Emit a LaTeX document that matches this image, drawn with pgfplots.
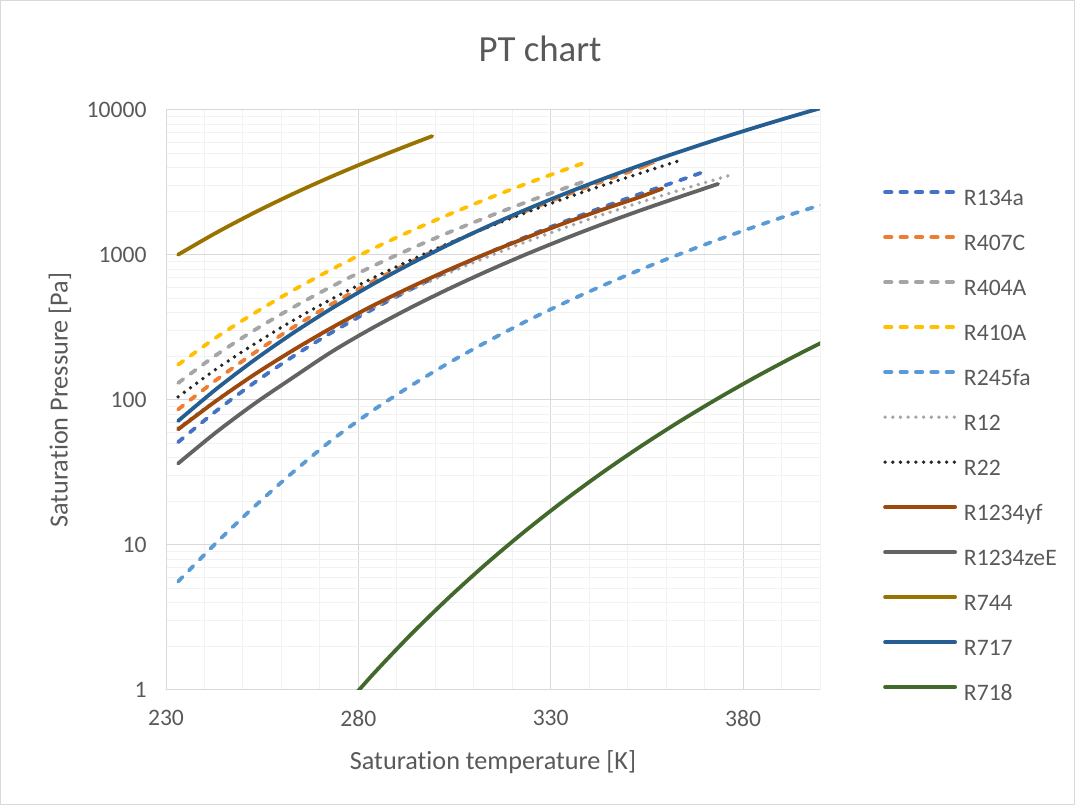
\documentclass[border=0pt]{standalone}
\usepackage{pgfplots}
\pgfplotsset{compat=1.18}
\usepackage{fontspec}
\setmainfont{Carlito}[Ligatures=NoCommon]

\definecolor{txt}{HTML}{595959}
\definecolor{majgrid}{HTML}{D9D9D9}
\definecolor{mingrid}{HTML}{F2F2F2}
\definecolor{cA}{HTML}{4472C4}
\definecolor{cB}{HTML}{ED7D31}
\definecolor{cC}{HTML}{A5A5A5}
\definecolor{cD}{HTML}{FFC000}
\definecolor{cE}{HTML}{5B9BD5}
\definecolor{cF}{HTML}{262626}
\definecolor{cG}{HTML}{9E480E}
\definecolor{cH}{HTML}{636363}
\definecolor{cI}{HTML}{997300}
\definecolor{cJ}{HTML}{255E91}
\definecolor{cK}{HTML}{43682B}

\tikzset{
  dashline/.style={line width=3.8bp, line cap=round, dash pattern=on 6.4bp off 9bp},
  dotline/.style={line width=3.8bp, line cap=round, dash pattern=on 0bp off 7.7bp},
  solidline/.style={line width=3.8bp, line cap=round},
}

\begin{document}
\begin{tikzpicture}[x=1bp,y=1bp]
\useasboundingbox (0,0) rectangle (1075,805);
\draw[majgrid, line width=1bp] (0.5,0.5) rectangle (1074.5,804.5);
\begin{axis}[
  at={(166bp,115bp)}, anchor=south west,
  width=654bp, height=580bp, scale only axis,
  xmin=230, xmax=400, ymin=1, ymax=10000,
  ymode=log,
  xtick={230,280,330,380},
  xticklabels={230,280,330,380},
  minor xtick={240,250,...,400},
  ytick={1,10,100,1000,10000},
  yticklabels={1,10,100,1000,10000},
  grid=both,
  major grid style={draw=majgrid, line width=1bp},
  minor grid style={draw=mingrid, line width=1bp},
  axis lines*=left,
  axis line style={draw=majgrid, line width=1bp, -},
  major tick length=0pt, minor tick length=0pt,
  tick style={draw=none},
  ticklabel style={font=\fontsize{23.7}{28}\selectfont, text=txt},
  xticklabel style={yshift=-17bp},
  yticklabel style={xshift=-16bp},
  xlabel={Saturation temperature [K]},
  xlabel style={font=\fontsize{26.3}{30}\selectfont, text=txt,
    at={(axis description cs:0.5,-0.1241)}, anchor=center},
  ylabel={Saturation Pressure [Pa]},
  ylabel style={font=\fontsize{26.3}{30}\selectfont, text=txt,
    at={(axis description cs:-0.162,0.5)}, anchor=center},
  title={PT chart},
  title style={font=\fontsize{37}{42}\selectfont, text=txt,
    at={(axis description cs:0.572,1.0948)}, anchor=center},
  legend cell align=left,
  legend image code/.code={\draw[#1] (0bp,7bp) -- (70bp,7bp);},
  legend style={at={(axis description cs:1.0917,0.869)}, anchor=north west,
    draw=none, fill=none, font=\fontsize{23.7}{28}\selectfont, text=txt,
    nodes={inner sep=0pt, text height=17bp, text depth=5bp},
    row sep=23bp,
    /tikz/every odd column/.append style={column sep=7bp}},
]
% R134a
\addplot[cA, dashline, smooth] coordinates {(233.15,51.2) (243.15,84.4) (253.15,132.7) (263.15,200.6) (273.15,292.8) (283.15,414.6) (293.15,571.7) (303.15,770.2) (313.15,1016.6) (323.15,1318.1) (333.15,1681.8) (343.15,2116) (353.15,2633) (363.15,3244) (369,3680)};
\addlegendentry{R134a}
% R407C
\addplot[cB, dashline, smooth] coordinates {(233.15,86) (243.15,138) (253.15,213) (263.15,318) (273.15,460) (283.15,645) (293.15,880) (303.15,1180) (313.15,1545) (323.15,1990) (333.15,2540) (343.15,3200) (353.15,3980) (354,4070)};
\addlegendentry{R407C}
% R404A
\addplot[cC, dashline, smooth] coordinates {(233.15,131) (243.15,205) (253.15,305) (263.15,437) (273.15,608) (283.15,823) (293.15,1090) (303.15,1417) (313.15,1812) (323.15,2287) (333.15,2855) (338.5,3200)};
\addlegendentry{R404A}
% R410A
\addplot[cD, dashline, smooth] coordinates {(233.15,175) (243.15,271) (253.15,400) (263.15,573) (273.15,798) (283.15,1085) (293.15,1443) (303.15,1884) (313.15,2420) (323.15,3065) (333.15,3830) (338.5,4300)};
\addlegendentry{R410A}
% R245fa
\addplot[cE, dashline, smooth] coordinates {(233.15,5.6) (243.15,10.4) (253.15,18.6) (263.15,32) (273.15,53) (283.15,82.5) (293.15,123) (303.15,178) (313.15,250) (323.15,344) (333.15,462) (343.15,609) (353.15,789) (363.15,1005) (373.15,1265) (383.15,1570) (393.15,1930) (403.15,2340)};
\addlegendentry{R245fa}
% R12
\addplot[cC, dotline, smooth] coordinates {(233.15,64.2) (243.15,100.4) (253.15,150.9) (263.15,219.1) (273.15,308.6) (283.15,423.3) (293.15,567.2) (303.15,744.9) (313.15,960.7) (323.15,1219) (333.15,1525) (343.15,1884) (353.15,2300) (363.15,2781) (373.15,3334) (377.5,3600)};
\addlegendentry{R12}
% R22
\addplot[cF, dotline, smooth] coordinates {(233.15,105) (243.15,164) (253.15,245) (263.15,355) (273.15,498) (283.15,681) (293.15,910) (303.15,1192) (313.15,1534) (323.15,1943) (333.15,2427) (343.15,2995) (353.15,3654) (363.5,4480)};
\addlegendentry{R22}
% R1234yf
\addplot[cG, solidline, smooth] coordinates {(233.15,62.7) (243.15,99.1) (253.15,150.9) (263.15,221.4) (273.15,315.8) (283.15,439) (293.15,592.2) (303.15,783.5) (313.15,1017.7) (323.15,1300) (333.15,1642) (343.15,2042) (353.15,2510) (359,2870)};
\addlegendentry{R1234yf}
% R1234zeE
\addplot[cH, solidline, smooth] coordinates {(233.15,36.5) (243.15,60.2) (253.15,94.9) (263.15,143.7) (273.15,215.7) (283.15,308.4) (293.15,427.3) (303.15,578) (313.15,766.5) (323.15,998.8) (333.15,1281) (343.15,1620) (353.15,2023) (363.15,2497) (373.5,3090)};
\addlegendentry{R1234zeE}
% R744
\addplot[cI, solidline, smooth] coordinates {(233.15,1005) (243.15,1428) (253.15,1970) (263.15,2649) (273.15,3485) (283.15,4502) (293.15,5729) (299.2,6600)};
\addlegendentry{R744}
% R717
\addplot[cJ, solidline, smooth] coordinates {(233.15,71.7) (243.15,119.5) (253.15,190.2) (263.15,290.9) (273.15,429.4) (283.15,615.2) (293.15,857.5) (303.15,1167) (313.15,1555) (323.15,2033) (333.15,2614) (343.15,3312) (353.15,4142) (363.15,5116) (373.15,6254) (383.15,7575) (393.15,9100) (403.15,10850)};
\addlegendentry{R717}
% R718
\addplot[cK, solidline, smooth] coordinates {(273.15,0.611) (283.15,1.228) (293.15,2.339) (303.15,4.246) (313.15,7.384) (323.15,12.35) (333.15,19.95) (343.15,31.2) (353.15,47.41) (363.15,70.18) (373.15,101.4) (383.15,143.4) (393.15,198.7) (403.15,270.3)};
\addlegendentry{R718}
\end{axis}
\end{tikzpicture}
\end{document}
